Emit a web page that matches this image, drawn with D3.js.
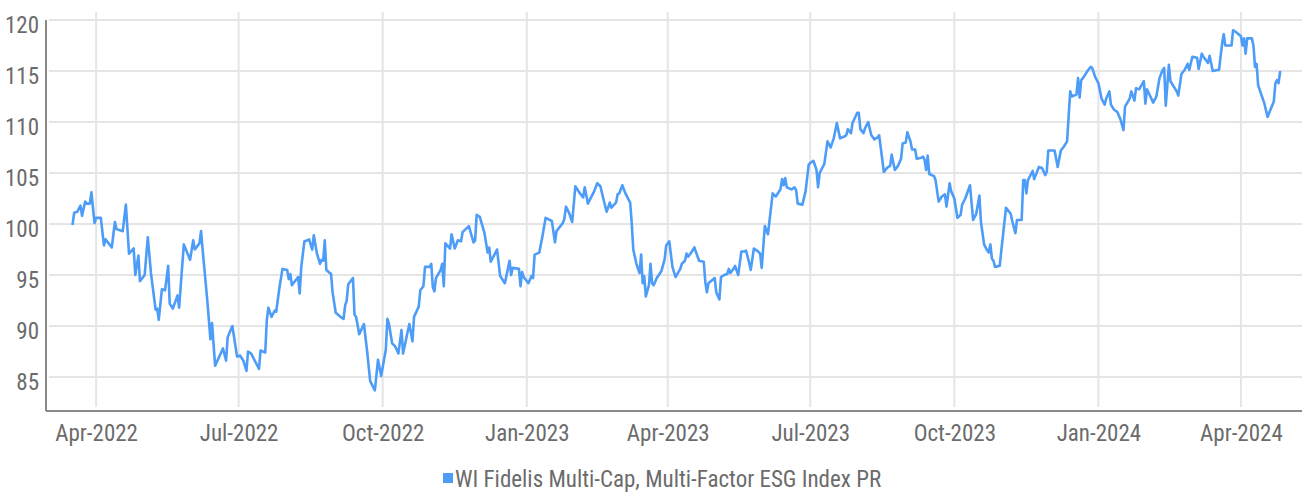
<!DOCTYPE html>
<html>
<head>
<meta charset="utf-8">
<script src="https://cdn.jsdelivr.net/npm/d3@7"></script>
<style>
  html, body { margin: 0; padding: 0; background: #ffffff; }
  svg { display: block; }
  text { font-family: "Liberation Sans Narrow", "Roboto Condensed", "DejaVu Sans Condensed", sans-serif; fill: #6b6b6b; }
</style>
</head>
<body>
<svg id="chart" width="1302" height="494"></svg>
<script>
// Index level (price return), close values
const seriesName = "WI Fidelis Multi-Cap, Multi-Factor ESG Index PR";

const indexLevels = [
  ["2022-03-17",100.0],["2022-03-18",101.1],["2022-03-20",101.2],["2022-03-22",101.8],["2022-03-23",100.8],
  ["2022-03-25",102.2],["2022-03-26",102.0],["2022-03-28",102.0],["2022-03-29",103.1],["2022-03-31",100.1],
  ["2022-04-01",100.6],["2022-04-04",100.6],["2022-04-06",97.9],["2022-04-07",98.5],["2022-04-09",98.1],
  ["2022-04-11",97.7],["2022-04-13",100.2],["2022-04-14",99.5],["2022-04-18",99.3],["2022-04-20",101.9],
  ["2022-04-22",97.1],["2022-04-25",97.6],["2022-04-26",95.0],["2022-04-28",96.9],["2022-04-29",94.4],
  ["2022-05-02",95.0],["2022-05-04",98.7],["2022-05-06",95.2],["2022-05-09",91.6],["2022-05-10",91.7],
  ["2022-05-11",90.6],["2022-05-13",93.6],["2022-05-15",93.5],["2022-05-17",95.9],["2022-05-18",92.2],
  ["2022-05-20",91.7],["2022-05-23",93.0],["2022-05-24",91.8],["2022-05-27",98.0],["2022-05-31",96.5],
  ["2022-06-02",98.4],["2022-06-03",97.5],["2022-06-06",98.1],["2022-06-07",99.3],["2022-06-08",97.5],
  ["2022-06-11",92.5],["2022-06-13",88.7],["2022-06-14",90.3],["2022-06-16",86.1],["2022-06-21",87.8],
  ["2022-06-23",86.6],["2022-06-24",88.9],["2022-06-27",90.0],["2022-06-30",87.0],
  ["2022-07-02",87.1],["2022-07-04",86.6],["2022-07-06",85.6],["2022-07-07",87.5],["2022-07-09",87.3],
  ["2022-07-12",86.4],["2022-07-14",85.8],["2022-07-15",87.6],["2022-07-18",87.4],["2022-07-19",90.6],
  ["2022-07-20",91.8],["2022-07-22",90.9],["2022-07-24",91.5],["2022-07-25",91.4],["2022-07-27",93.7],
  ["2022-07-29",95.6],["2022-08-01",95.5],["2022-08-02",94.6],["2022-08-03",95.1],["2022-08-04",94.0],
  ["2022-08-08",94.8],["2022-08-09",93.2],["2022-08-10",95.8],["2022-08-12",98.3],["2022-08-14",98.4],
  ["2022-08-15",98.5],["2022-08-17",97.5],["2022-08-18",98.9],["2022-08-20",97.1],["2022-08-22",96.1],
  ["2022-08-23",96.5],["2022-08-24",96.4],["2022-08-25",98.4],["2022-08-26",95.5],["2022-08-29",95.1],
  ["2022-08-30",93.3],["2022-09-01",91.3],["2022-09-04",90.9],["2022-09-06",90.7],["2022-09-07",92.0],
  ["2022-09-08",92.5],["2022-09-09",94.1],["2022-09-12",94.7],["2022-09-13",91.1],["2022-09-14",90.9],
  ["2022-09-16",89.2],["2022-09-19",90.2],["2022-09-21",87.6],["2022-09-23",84.6],["2022-09-26",83.7],
  ["2022-09-28",86.7],["2022-09-30",85.1],["2022-10-03",87.7],["2022-10-04",90.7],["2022-10-05",90.2],
  ["2022-10-07",88.3],["2022-10-09",88.0],["2022-10-11",87.3],["2022-10-13",89.6],["2022-10-14",87.3],
  ["2022-10-18",90.2],["2022-10-20",88.5],["2022-10-21",90.9],["2022-10-24",91.9],["2022-10-25",93.5],
  ["2022-10-27",93.9],["2022-10-28",95.8],["2022-10-31",95.8],["2022-11-01",96.1],["2022-11-02",93.8],
  ["2022-11-03",93.4],["2022-11-04",94.7],["2022-11-07",95.5],["2022-11-08",96.1],["2022-11-09",93.9],
  ["2022-11-10",98.1],["2022-11-13",97.6],["2022-11-14",99.0],["2022-11-16",97.6],["2022-11-18",98.4],
  ["2022-11-20",98.3],["2022-11-21",99.2],["2022-11-25",99.8],["2022-11-28",98.2],["2022-11-29",98.4],
  ["2022-11-30",100.9],["2022-12-02",100.7],["2022-12-05",99.1],["2022-12-07",97.2],["2022-12-08",97.7],
  ["2022-12-09",96.3],["2022-12-13",97.5],["2022-12-15",94.9],["2022-12-18",94.2],["2022-12-21",96.4],
  ["2022-12-22",95.0],["2022-12-23",95.7],["2022-12-27",95.6],["2022-12-28",93.9],["2022-12-29",95.3],
  ["2022-12-30",94.8],["2023-01-02",94.2],["2023-01-04",94.9],["2023-01-05",94.7],["2023-01-06",97.0],
  ["2023-01-09",97.2],["2023-01-11",98.8],["2023-01-13",100.6],["2023-01-17",100.3],["2023-01-19",98.2],
  ["2023-01-20",99.3],["2023-01-24",100.1],["2023-01-25",100.5],["2023-01-26",101.7],["2023-01-28",101.1],
  ["2023-01-30",100.2],["2023-02-01",103.7],["2023-02-04",103.0],["2023-02-06",102.6],["2023-02-07",103.6],
  ["2023-02-09",102.0],["2023-02-13",103.2],["2023-02-15",104.0],["2023-02-17",103.7],["2023-02-19",102.4],
  ["2023-02-21",101.2],["2023-02-23",102.1],["2023-02-24",101.6],["2023-02-27",102.1],["2023-02-28",102.9],
  ["2023-03-01",103.0],["2023-03-03",103.8],["2023-03-05",103.0],["2023-03-07",102.4],["2023-03-08",102.1],
  ["2023-03-09",100.1],["2023-03-10",97.5],["2023-03-12",96.1],["2023-03-14",95.2],["2023-03-15",97.0],
  ["2023-03-16",94.2],["2023-03-17",94.9],["2023-03-18",92.9],["2023-03-20",94.0],["2023-03-21",96.1],
  ["2023-03-22",94.2],["2023-03-23",94.0],["2023-03-25",94.7],["2023-03-28",95.4],["2023-03-30",96.5],
  ["2023-03-31",97.9],["2023-04-02",98.3],["2023-04-04",95.8],["2023-04-06",94.8],["2023-04-09",95.6],
  ["2023-04-10",96.1],["2023-04-12",96.4],["2023-04-13",97.1],["2023-04-14",96.8],["2023-04-16",97.2],
  ["2023-04-18",97.7],["2023-04-21",96.4],["2023-04-24",96.3],["2023-04-25",94.3],["2023-04-26",93.3],
  ["2023-04-27",94.2],["2023-05-01",94.7],["2023-05-02",93.3],["2023-05-04",92.6],["2023-05-05",94.8],
  ["2023-05-07",95.0],["2023-05-09",95.1],["2023-05-10",95.6],["2023-05-11",95.2],["2023-05-13",95.6],
  ["2023-05-14",95.9],["2023-05-16",95.0],["2023-05-18",97.3],["2023-05-20",97.3],["2023-05-21",97.4],
  ["2023-05-23",96.2],["2023-05-24",95.5],["2023-05-26",97.6],["2023-05-28",97.4],["2023-05-30",97.1],
  ["2023-05-31",95.7],["2023-06-02",99.8],["2023-06-04",99.0],["2023-06-07",103.0],["2023-06-09",102.7],
  ["2023-06-12",103.4],["2023-06-13",104.4],["2023-06-14",103.8],["2023-06-15",104.5],["2023-06-16",103.6],
  ["2023-06-19",103.4],["2023-06-21",103.6],["2023-06-22",103.3],["2023-06-23",102.0],["2023-06-26",101.9],
  ["2023-06-28",103.2],["2023-06-30",105.8],["2023-07-01",106.0],["2023-07-03",106.2],["2023-07-05",105.3],
  ["2023-07-06",103.6],["2023-07-07",105.0],["2023-07-10",105.9],["2023-07-12",108.1],["2023-07-14",107.5],
  ["2023-07-16",108.4],["2023-07-18",109.9],["2023-07-20",108.4],["2023-07-23",108.6],["2023-07-24",108.7],
  ["2023-07-25",109.3],["2023-07-27",108.9],["2023-07-28",109.9],["2023-07-31",110.9],["2023-08-01",110.9],
  ["2023-08-02",109.3],["2023-08-04",108.9],["2023-08-05",109.4],["2023-08-07",110.0],["2023-08-09",108.7],
  ["2023-08-11",108.3],["2023-08-13",108.5],["2023-08-14",108.7],["2023-08-17",105.1],["2023-08-19",105.5],
  ["2023-08-21",105.7],["2023-08-22",106.8],["2023-08-24",105.3],["2023-08-26",105.7],["2023-08-28",106.4],
  ["2023-08-29",107.9],["2023-08-31",108.0],["2023-09-01",109.0],["2023-09-03",108.1],["2023-09-04",107.3],
  ["2023-09-06",107.3],["2023-09-07",106.4],["2023-09-10",106.5],["2023-09-11",106.6],["2023-09-12",106.3],
  ["2023-09-13",105.3],["2023-09-14",106.7],["2023-09-15",104.9],["2023-09-18",104.7],["2023-09-19",104.3],
  ["2023-09-21",102.2],["2023-09-23",102.7],["2023-09-25",102.9],["2023-09-26",101.7],["2023-09-28",104.0],
  ["2023-09-29",103.2],["2023-10-01",102.5],["2023-10-03",100.6],["2023-10-05",100.9],["2023-10-06",101.9],
  ["2023-10-08",102.5],["2023-10-11",103.8],["2023-10-13",100.4],["2023-10-15",101.0],["2023-10-17",102.8],
  ["2023-10-18",100.2],["2023-10-20",98.0],["2023-10-22",97.4],["2023-10-23",97.2],["2023-10-24",98.0],
  ["2023-10-25",96.6],["2023-10-26",96.4],["2023-10-27",95.8],["2023-10-30",95.9],["2023-10-31",97.4],
  ["2023-11-03",101.6],["2023-11-06",101.0],["2023-11-07",100.3],["2023-11-09",99.1],["2023-11-10",100.4],
  ["2023-11-13",100.4],["2023-11-14",104.3],["2023-11-15",104.3],["2023-11-16",103.0],["2023-11-17",104.3],
  ["2023-11-20",105.2],["2023-11-21",104.4],["2023-11-24",105.6],["2023-11-26",105.5],["2023-11-28",104.8],
  ["2023-11-29",105.1],["2023-11-30",107.2],["2023-12-04",107.2],["2023-12-06",105.6],["2023-12-08",107.2],
  ["2023-12-10",107.6],["2023-12-12",108.1],["2023-12-14",113.0],["2023-12-15",112.5],["2023-12-18",112.7],
  ["2023-12-19",114.3],["2023-12-20",112.4],["2023-12-21",114.1],["2023-12-23",114.5],["2023-12-25",115.0],
  ["2023-12-27",115.4],["2023-12-28",115.3],["2023-12-30",114.4],["2024-01-01",113.8],["2024-01-03",112.3],
  ["2024-01-05",111.7],["2024-01-06",112.3],["2024-01-08",113.0],["2024-01-09",111.7],["2024-01-11",111.2],
  ["2024-01-13",111.0],["2024-01-15",110.3],["2024-01-17",109.2],["2024-01-18",111.5],["2024-01-21",112.3],
  ["2024-01-22",113.0],["2024-01-24",112.1],["2024-01-25",113.3],["2024-01-27",113.2],["2024-01-30",114.0],
  ["2024-01-31",111.8],["2024-02-01",113.2],["2024-02-02",112.9],["2024-02-05",111.9],["2024-02-07",112.5],
  ["2024-02-09",114.3],["2024-02-11",115.1],["2024-02-12",115.3],["2024-02-13",111.6],["2024-02-15",115.6],
  ["2024-02-16",114.0],["2024-02-20",113.0],["2024-02-21",112.6],["2024-02-23",114.7],["2024-02-25",115.1],
  ["2024-02-27",115.7],["2024-02-28",115.1],["2024-03-01",116.4],["2024-03-04",116.3],["2024-03-05",115.2],
  ["2024-03-07",116.7],["2024-03-08",116.4],["2024-03-11",115.8],["2024-03-12",116.5],["2024-03-14",115.0],
  ["2024-03-17",115.1],["2024-03-18",115.1],["2024-03-20",117.7],["2024-03-21",118.6],["2024-03-22",117.5],
  ["2024-03-26",117.5],["2024-03-27",119.0],["2024-03-29",118.8],["2024-04-01",118.4],["2024-04-02",117.5],
  ["2024-04-03",118.2],["2024-04-04",116.7],["2024-04-05",118.2],["2024-04-08",118.2],["2024-04-09",117.5],
  ["2024-04-10",115.4],["2024-04-11",115.7],["2024-04-12",113.6],["2024-04-16",111.8],["2024-04-18",110.5],
  ["2024-04-22",112.0],["2024-04-23",113.8],["2024-04-24",114.1],["2024-04-25",113.8],["2024-04-26",114.9]
];

// Axis ticks
const yTicks = [85, 90, 95, 100, 105, 110, 115, 120];
const xTickDates = ["2022-04-01","2022-07-01","2022-10-01","2023-01-01","2023-04-01",
                    "2023-07-01","2023-10-01","2024-01-01","2024-04-01"];
const yDomain = [81.67, 120];
const xDomain = ["2022-02-28", "2024-05-10"];

const parse = d3.timeParse("%Y-%m-%d");
const data = indexLevels.map(([d, v]) => ({ date: parse(d), value: v }));

const W = 1302, H = 494;
const plot = { left: 46, right: 1302, top: 20, bottom: 411 };

const svg = d3.select("#chart");

const x = d3.scaleTime()
  .domain(xDomain.map(parse))
  .range([plot.left, plot.right]);

const y = d3.scaleLinear()
  .domain(yDomain)
  .range([plot.bottom, plot.top]);

const gridColor = "#e5e5e5";

// horizontal grid
svg.append("g")
  .selectAll("line")
  .data(yTicks)
  .join("line")
  .attr("x1", plot.left + 3)
  .attr("x2", W)
  .attr("y1", d => y(d))
  .attr("y2", d => y(d))
  .attr("stroke", gridColor)
  .attr("stroke-width", 2);

// vertical grid at quarter starts
svg.append("g")
  .selectAll("line")
  .data(xTickDates.map(parse))
  .join("line")
  .attr("x1", d => x(d))
  .attr("x2", d => x(d))
  .attr("y1", plot.top - 8)
  .attr("y2", plot.bottom - 4)
  .attr("stroke", gridColor)
  .attr("stroke-width", 2);

// y axis
const yAxis = d3.axisLeft(y)
  .tickValues(yTicks)
  .tickSize(0)
  .tickPadding(7)
  .tickFormat(d3.format("d"));

const gy = svg.append("g")
  .attr("transform", `translate(${plot.left},0)`)
  .call(yAxis);
gy.select(".domain").remove();
gy.selectAll("text")
  .attr("dy", "0.55em")
  .style("font-size", "23px")
  .style("fill", "#6b6b6b");

// x axis
const xAxis = d3.axisBottom(x)
  .tickValues(xTickDates.map(parse))
  .tickSize(0)
  .tickPadding(14)
  .tickFormat(d3.timeFormat("%b-%Y"));

const gx = svg.append("g")
  .attr("transform", `translate(0,${plot.bottom})`)
  .call(xAxis);
gx.select(".domain").remove();
gx.selectAll("text")
  .style("font-size", "23px")
  .style("fill", "#6b6b6b");

// axis lines
svg.append("line")
  .attr("x1", plot.left).attr("x2", plot.left)
  .attr("y1", plot.top).attr("y2", plot.bottom)
  .attr("stroke", "#8a8a8a").attr("stroke-width", 2);
svg.append("line")
  .attr("x1", plot.left).attr("x2", W)
  .attr("y1", plot.bottom).attr("y2", plot.bottom)
  .attr("stroke", "#8a8a8a").attr("stroke-width", 2);

// index line
const line = d3.line()
  .x(d => x(d.date))
  .y(d => y(d.value));

svg.append("path")
  .datum(data)
  .attr("fill", "none")
  .attr("stroke", "#4d9cf8")
  .attr("stroke-width", 2.6)
  .attr("stroke-linejoin", "round")
  .attr("stroke-linecap", "round")
  .attr("d", line);

// legend
const legend = svg.append("g");
legend.append("rect")
  .attr("width", 10).attr("height", 10)
  .attr("fill", "#4d9cf8");
const legendText = legend.append("text")
  .attr("x", 12)
  .attr("y", 14)
  .style("font-size", "23px")
  .style("fill", "#6b6b6b")
  .text(seriesName);
const legendWidth = 12 + legendText.node().getComputedTextLength();
legend.attr("transform", `translate(${Math.round(662 - legendWidth / 2)},473)`);
</script>
</body>
</html>
